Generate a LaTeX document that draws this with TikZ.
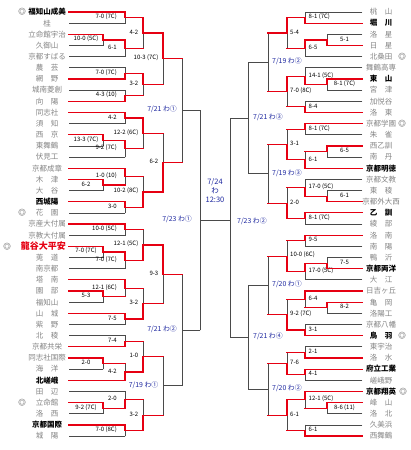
\documentclass[tikz,border=0pt]{standalone}
\usepackage{fontspec}
\setmainfont{Noto Sans CJK JP}
\usetikzlibrary{calc}
\definecolor{lk}{HTML}{4A4A4A}
\definecolor{rd}{HTML}{E60012}
\definecolor{tg}{HTML}{858585}
\definecolor{db}{HTML}{1E28A0}
\newif\ifmtlab
\newcommand\dt[1]{\textcolor{db}{\fontsize{6.9}{7}\selectfont #1}}
\newcommand\teamL[3]{\pgfmathsetmacro\ty{12+(#1-1)*11.16}\node[#2] (tl#1) at (47,\ty) {#3};\coordinate (la#1) at (69,\ty);}
\newcommand\teamR[3]{\pgfmathsetmacro\ty{12+(#1-1)*11.16}\node[#2] (tr#1) at (381,\ty) {#3};\coordinate (ra#1) at (362,\ty);}
\newcommand\markT[2]{\pgfmathsetmacro\ty{12+(#1-1)*11.16}\node[mk] at (#2,\ty) {◎};}
\newcommand\mt[8]{%
  \coordinate (#1) at ($(#2 -| #6)!0.5!(#4 -| #6)$);
  \draw[#3] (#2) -- (#2 -| #6);
  \draw[#5] (#4) -- (#4 -| #6);
  \ifx t#7\tikzset{mtT/.style={rl},mtB/.style={kl}}\else
    \ifx b#7\tikzset{mtT/.style={kl},mtB/.style={rl}}\else
      \tikzset{mtT/.style={kl},mtB/.style={kl}}\fi\fi
  \draw[mtT] (#2 -| #6) -- (#1);
  \draw[mtB] (#1) -- (#4 -| #6);
  \ifmtlab\node[lab#6] at (#1) {#8};\fi
}
\tikzset{
 kline/.style={draw=lk, line width=0.75pt, line cap=rect},
 rline/.style={draw=rd, line width=1.2pt, line cap=rect},
 tn/.style={font=\fontsize{7.5}{8}\selectfont, text=tg, inner sep=0pt},
 tb/.style={font=\fontsize{7.5}{8}\selectfont\bfseries, text=black, inner sep=0pt},
 tred/.style={font=\fontsize{9}{10}\selectfont\bfseries, text=rd, inner sep=0pt},
 mk/.style={font=\fontsize{7.5}{8}\selectfont\bfseries, text=lk, inner sep=0pt},
 sc/.style={font=\fontsize{6}{6.5}\selectfont, text=black, inner sep=0pt, yshift=1pt},
 labL1/.style={sc, anchor=center, xshift=-17pt},
 labL2/.style={sc, anchor=east, xshift=-8pt},
 labL3/.style={sc, anchor=east, xshift=-4.5pt},
 labL4/.style={sc, anchor=east, xshift=-4.5pt},
 labL5/.style={sc, anchor=east, xshift=-5pt},
 labL6/.style={sc, anchor=east, xshift=-8pt},
 labR1/.style={sc, anchor=center, xshift=17.5pt},
 labR2/.style={sc, anchor=west, xshift=3.5pt},
 labR3/.style={sc, anchor=west, xshift=3pt},
 labR4/.style={sc, anchor=west, xshift=4pt},
 labR5/.style={sc, anchor=west, xshift=5pt},
 labR6/.style={sc, anchor=west, xshift=7pt},
}
\newcommand\allm{%
\mt{a1}{la1}{rl}{la2}{kl}{L2}{t}{7-0 (7C)}
\mt{a2}{la3}{rl}{la4}{kl}{L1}{t}{10-0 (5C)}
\mt{a3}{a2}{rl}{la5}{kl}{L2}{t}{6-1}
\mt{a4}{a1}{rl}{a3}{rl}{L3}{t}{4-2}
\mt{a6}{la6}{kl}{la7}{rl}{L2}{b}{7-0 (7C)}
\mt{a7}{la8}{kl}{la9}{rl}{L2}{b}{4-3 (10)}
\mt{a8}{a6}{rl}{a7}{rl}{L3}{t}{3-2}
\mt{a5}{a4}{rl}{a8}{rl}{L4}{t}{10-3 (7C)}
\mt{b1}{la10}{rl}{la11}{kl}{L2}{t}{4-2}
\mt{b2}{la12}{rl}{la13}{kl}{L1}{t}{13-3 (7C)}
\mt{b3}{b2}{rl}{la14}{kl}{L2}{t}{9-2 (7C)}
\mt{b4}{b1}{rl}{b3}{rl}{L3}{t}{12-2 (6C)}
\mt{b5}{la16}{rl}{la17}{kl}{L1}{t}{6-2}
\mt{b6}{la15}{rl}{b5}{rl}{L2}{t}{1-0 (10)}
\mt{b8}{la18}{rl}{la19}{kl}{L2}{t}{3-0}
\mt{b7}{b6}{rl}{b8}{rl}{L3}{b}{10-2 (8C)}
\mt{b9}{b4}{rl}{b7}{rl}{L4}{b}{6-2}
\mt{m1}{a5}{rl}{b9}{rl}{L5}{n}{\dt{7/21 わ①}}
\mt{c1}{la20}{rl}{la21}{kl}{L2}{t}{10-0 (5C)}
\mt{c2}{la22}{rl}{la23}{kl}{L1}{t}{7-0 (7C)}
\mt{c3}{c2}{rl}{la24}{kl}{L2}{t}{7-0 (7C)}
\mt{c4}{c1}{rl}{c3}{rl}{L3}{b}{12-1 (5C)}
\mt{c5}{la26}{rl}{la27}{kl}{L1}{t}{5-3}
\mt{c6}{la25}{rl}{c5}{rl}{L2}{t}{12-1 (6C)}
\mt{c7}{la28}{rl}{la29}{kl}{L2}{t}{7-5}
\mt{c8}{c6}{rl}{c7}{rl}{L3}{b}{3-2}
\mt{c9}{c4}{rl}{c8}{rl}{L4}{t}{9-3}
\mt{d1}{la30}{kl}{la31}{rl}{L2}{b}{7-4}
\mt{d2}{la32}{rl}{la33}{kl}{L1}{t}{2-0}
\mt{d3}{d2}{rl}{la34}{rl}{L2}{b}{4-2}
\mt{d4}{d1}{rl}{d3}{rl}{L3}{b}{1-0}
\mt{d5}{la36}{rl}{la37}{kl}{L1}{t}{9-2 (7C)}
\mt{d6}{la35}{kl}{d5}{rl}{L2}{b}{2-0}
\mt{d7}{la38}{rl}{la39}{kl}{L2}{t}{7-0 (8C)}
\mt{d8}{d6}{rl}{d7}{rl}{L3}{b}{3-2}
\mt{m2}{d4}{rl}{d8}{rl}{L4}{n}{\dt{7/19 わ①}}
\mt{m3}{c9}{rl}{m2}{kl}{L5}{n}{\dt{7/21 わ②}}
\mt{m4}{m1}{kl}{m3}{kl}{L6}{n}{\dt{7/23 わ①}}
\mt{e1}{ra1}{kl}{ra2}{rl}{R2}{b}{8-1 (7C)}
\mt{e2}{ra3}{kl}{ra4}{rl}{R1}{b}{5-1}
\mt{e3}{e2}{rl}{ra5}{kl}{R2}{t}{6-5}
\mt{e4}{e1}{rl}{e3}{rl}{R3}{t}{5-4}
\mt{e5}{ra7}{rl}{ra8}{kl}{R1}{t}{8-1 (7C)}
\mt{e6}{ra6}{kl}{e5}{rl}{R2}{b}{14-1 (5C)}
\mt{e7}{ra9}{kl}{ra10}{rl}{R2}{b}{8-4}
\mt{e8}{e6}{rl}{e7}{rl}{R3}{t}{7-0 (8C)}
\mt{n1}{e4}{rl}{e8}{rl}{R4}{n}{\dt{7/19 わ②}}
\mt{f1}{ra11}{rl}{ra12}{kl}{R2}{t}{8-1 (7C)}
\mt{f2}{ra13}{rl}{ra14}{kl}{R1}{t}{6-5}
\mt{f3}{f2}{rl}{ra15}{rl}{R2}{b}{6-1}
\mt{f4}{f1}{rl}{f3}{rl}{R3}{b}{3-1}
\mt{f5}{ra17}{kl}{ra18}{rl}{R1}{b}{6-1}
\mt{f6}{ra16}{kl}{f5}{rl}{R2}{b}{17-0 (5C)}
\mt{f7}{ra19}{rl}{ra20}{kl}{R2}{t}{8-1 (7C)}
\mt{f8}{f6}{rl}{f7}{rl}{R3}{b}{2-0}
\mt{n2}{f4}{rl}{f8}{rl}{R4}{n}{\dt{7/19 わ③}}
\mt{n3}{n1}{kl}{n2}{kl}{R5}{n}{\dt{7/21 わ③}}
\mt{g1}{ra21}{rl}{ra22}{kl}{R2}{t}{9-5}
\mt{g2}{ra23}{kl}{ra24}{rl}{R1}{b}{7-5}
\mt{g3}{g2}{rl}{ra25}{kl}{R2}{t}{17-0 (5C)}
\mt{g4}{g1}{rl}{g3}{rl}{R3}{b}{10-0 (6C)}
\mt{g5}{ra27}{rl}{ra28}{kl}{R1}{t}{8-2}
\mt{g6}{ra26}{rl}{g5}{rl}{R2}{t}{6-4}
\mt{g7}{ra29}{kl}{ra30}{rl}{R2}{b}{3-1}
\mt{g8}{g6}{rl}{g7}{rl}{R3}{b}{9-2 (7C)}
\mt{n4}{g4}{rl}{g8}{rl}{R4}{n}{\dt{7/20 わ①}}
\mt{h1}{ra31}{kl}{ra32}{rl}{R2}{b}{2-1}
\mt{h2}{ra33}{rl}{ra34}{kl}{R2}{t}{4-1}
\mt{h3}{h1}{rl}{h2}{rl}{R3}{b}{7-6}
\mt{h4}{ra36}{rl}{ra37}{kl}{R1}{t}{8-6 (11)}
\mt{h5}{ra35}{rl}{h4}{rl}{R2}{t}{12-1 (5C)}
\mt{h6}{ra38}{kl}{ra39}{rl}{R2}{b}{6-1}
\mt{h7}{h5}{rl}{h6}{rl}{R3}{t}{6-1}
\mt{n5}{h3}{rl}{h7}{rl}{R4}{n}{\dt{7/20 わ②}}
\mt{n6}{n4}{kl}{n5}{kl}{R5}{n}{\dt{7/21 わ④}}
\coordinate (n7) at (m4 -| R6);
\draw[kl] (n3) -- (n3 -| R6);
\draw[kl] (n6) -- (n6 -| R6);
\draw[kl] (n3 -| R6) -- (n6 -| R6);
\draw[kl] (m4) -- (n7);
\ifmtlab\node[labR6, yshift=-1.5pt] at (n7) {\dt{7/23 わ②}};\fi
}
\begin{document}
\begin{tikzpicture}[x=1pt,y=-1pt]
\fill[white] (0,0) rectangle (410,450);
\useasboundingbox (0,0) rectangle (410,450);
\coordinate (L1) at (103,0); \coordinate (L2) at (125,0); \coordinate (L3) at (143,0);
\coordinate (L4) at (163,0); \coordinate (L5) at (182,0); \coordinate (L6) at (200,0);
\coordinate (R1) at (327,0); \coordinate (R2) at (305,0); \coordinate (R3) at (287,0);
\coordinate (R4) at (268,0); \coordinate (R5) at (248,0); \coordinate (R6) at (230,0);
% left teams
\teamL{1}{tb}{福知山成美}
\teamL{2}{tn}{桂}
\teamL{3}{tn}{立命館宇治}
\teamL{4}{tn}{久御山}
\teamL{5}{tn}{京都すばる}
\teamL{6}{tn}{農　芸}
\teamL{7}{tn}{網　野}
\teamL{8}{tn}{城南菱創}
\teamL{9}{tn}{向　陽}
\teamL{10}{tn}{同志社}
\teamL{11}{tn}{須　知}
\teamL{12}{tn}{西　京}
\teamL{13}{tn}{東舞鶴}
\teamL{14}{tn}{伏見工}
\teamL{15}{tn}{京都成章}
\teamL{16}{tn}{木　津}
\teamL{17}{tn}{大　谷}
\teamL{18}{tb}{西城陽}
\teamL{19}{tn}{花　園}
\teamL{20}{tn}{京産大付属}
\teamL{21}{tn}{京教大付属}
\teamL{22}{tred,anchor=east,xshift=19pt}{龍谷大平安}
\teamL{23}{tn}{莵　道}
\teamL{24}{tn}{南京都}
\teamL{25}{tn}{塔　南}
\teamL{26}{tn}{園　部}
\teamL{27}{tn}{福知山}
\teamL{28}{tn}{山　城}
\teamL{29}{tn}{紫　野}
\teamL{30}{tn}{北　稜}
\teamL{31}{tn}{京都共栄}
\teamL{32}{tn}{同志社国際}
\teamL{33}{tn}{海　洋}
\teamL{34}{tb}{北嵯峨}
\teamL{35}{tn}{田　辺}
\teamL{36}{tn}{立命館}
\teamL{37}{tn}{洛　西}
\teamL{38}{tb}{京都国際}
\teamL{39}{tn}{城　陽}
% right teams
\teamR{1}{tn}{桃　山}
\teamR{2}{tb}{堀　川}
\teamR{3}{tn}{洛　星}
\teamR{4}{tn}{日　星}
\teamR{5}{tn}{北桑田}
\teamR{6}{tn}{舞鶴高専}
\teamR{7}{tb}{東　山}
\teamR{8}{tn}{宮　津}
\teamR{9}{tn}{加悦谷}
\teamR{10}{tn}{洛　東}
\teamR{11}{tn}{京都学園}
\teamR{12}{tn}{朱　雀}
\teamR{13}{tn}{西乙訓}
\teamR{14}{tn}{南　丹}
\teamR{15}{tb}{京都明徳}
\teamR{16}{tn}{京都文教}
\teamR{17}{tn}{東　稜}
\teamR{18}{tn}{京都外大西}
\teamR{19}{tb}{乙　訓}
\teamR{20}{tn}{綾　部}
\teamR{21}{tn}{洛　南}
\teamR{22}{tn}{南　陽}
\teamR{23}{tn}{鴨　沂}
\teamR{24}{tb}{京都両洋}
\teamR{25}{tn}{大　江}
\teamR{26}{tn}{日吉ヶ丘}
\teamR{27}{tn}{亀　岡}
\teamR{28}{tn}{洛陽工}
\teamR{29}{tn}{京都八幡}
\teamR{30}{tb}{鳥　羽}
\teamR{31}{tn}{東宇治}
\teamR{32}{tn}{洛　水}
\teamR{33}{tb}{府立工業}
\teamR{34}{tn}{嵯峨野}
\teamR{35}{tb}{京都翔英}
\teamR{36}{tn}{峰　山}
\teamR{37}{tn}{洛　北}
\teamR{38}{tn}{久美浜}
\teamR{39}{tn}{西舞鶴}
% seed marks
\markT{1}{22} \markT{19}{22} \markT{22}{7} \markT{36}{22}
\markT{5}{402} \markT{11}{402} \markT{30}{402} \markT{35}{403}
% bracket: black pass with labels, then red pass on top
\tikzset{kl/.style={kline}, rl/.style={draw=none}}\mtlabtrue
\allm
\tikzset{kl/.style={draw=none}, rl/.style={rline}}\mtlabfalse
\allm
\node[font=\fontsize{7.5}{9}\selectfont, text=db, align=center, inner sep=0pt] (fin) at (215,191) {7/24\\わ\\12:30};
\end{tikzpicture}
\end{document}
